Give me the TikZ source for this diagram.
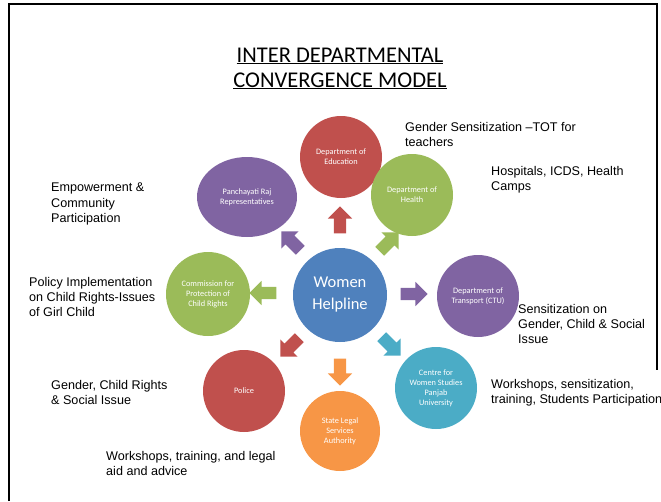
\documentclass[tikz,border=0pt]{standalone}
\usepackage{fontspec}
\setmainfont{Liberation Sans}
\newfontfamily\carlito{Carlito}
\usetikzlibrary{shapes.arrows,shapes.geometric}
\definecolor{cred}{HTML}{C0504D}
\definecolor{cgreen}{HTML}{9BBB59}
\definecolor{cpurple}{HTML}{8064A2}
\definecolor{cblue}{HTML}{4F81BD}
\definecolor{corange}{HTML}{F79646}
\definecolor{cteal}{HTML}{4BACC6}
\tikzset{
  dept/.style={circle, minimum size=82pt, inner sep=1pt, text=white, align=center,
    font=\carlito\fontsize{8.3}{10}\selectfont},
  blk/.style={single arrow, draw=none, inner xsep=0pt, inner ysep=6pt,
    single arrow head extend=6pt, minimum height=27pt},
  note/.style={anchor=north west, inner sep=0pt, align=left,
    font=\fontsize{12.6}{15.3}\selectfont}
}
\begin{document}
\begin{tikzpicture}[x=1pt,y=-1pt]
\useasboundingbox (0,0) rectangle (661,501);
\draw[line width=2pt] (9,501) -- (9,4) -- (657,4) -- (657,370);
\node[anchor=base, inner sep=0pt, font=\carlito\fontsize{22.5}{25}\selectfont] (t1) at (340,62) {\underline{INTER DEPARTMENTAL}};
\node[anchor=base, inner sep=0pt, font=\carlito\fontsize{22.5}{25}\selectfont] (t2) at (340,87) {\underline{CONVERGENCE MODEL}};

\node[dept, fill=cblue, minimum size=94pt, font=\carlito\fontsize{16.5}{22}\selectfont] (wh) at (340,295) {Women\\Helpline};
\node[dept, fill=cred] (edu) at (341,157) {Department of\\Education};
\node[dept, fill=cgreen] (hea) at (412,195) {Department of\\Health};
\node[dept, ellipse, fill=cpurple, minimum width=100pt, minimum height=80pt] (pan) at (247,197) {Panchayati Raj\\Representatives};
\node[dept, fill=cgreen, minimum size=84pt] (com) at (208,294) {Commission for\\Protection of\\Child Rights};
\node[dept, fill=cpurple] (tra) at (478,296) {Department of\\Transport (CTU)};
\node[dept, fill=cred] (pol) at (244,391) {Police};
\node[dept, fill=corange, minimum size=80pt] (sls) at (340,431) {State Legal\\Services\\Authority};
\node[dept, fill=cteal] (cws) at (436,388) {Centre for\\Women Studies\\Panjab\\University};

\node[blk, fill=cred, rotate=90] (a1) at (340,223) {};
\node[blk, fill=cgreen, rotate=45] (a2) at (387,244) {};
\node[blk, fill=cpurple, rotate=135] (a3) at (293,243) {};
\node[blk, fill=cgreen, rotate=180] (a4) at (266,293) {};
\node[blk, fill=cpurple, rotate=0] (a5) at (411,294) {};
\node[blk, fill=cred, rotate=225] (a6) at (292,345) {};
\node[blk, fill=corange, rotate=270] (a7) at (340,369) {};
\node[blk, fill=cteal, rotate=315] (a8) at (389,344) {};

\node[note] (n1) at (405,122) {Gender Sensitization –TOT for\\teachers};
\node[note] (n2) at (491,166) {Hospitals, ICDS, Health\\Camps};
\node[note] (n3) at (51,183) {Empowerment \&\\Community\\Participation};
\node[note] (n4) at (29,277) {Policy Implementation\\on Child Rights-Issues\\of Girl Child};
\node[note] (n5) at (518,304) {Sensitization on\\Gender, Child \& Social\\Issue};
\node[note] (n6) at (51,380) {Gender, Child Rights\\\& Social Issue};
\node[note] (n7) at (491,379) {Workshops, sensitization,\\training, Students Participation};
\node[note] (n8) at (106,451) {Workshops, training, and legal\\aid and advice};
\end{tikzpicture}
\end{document}
